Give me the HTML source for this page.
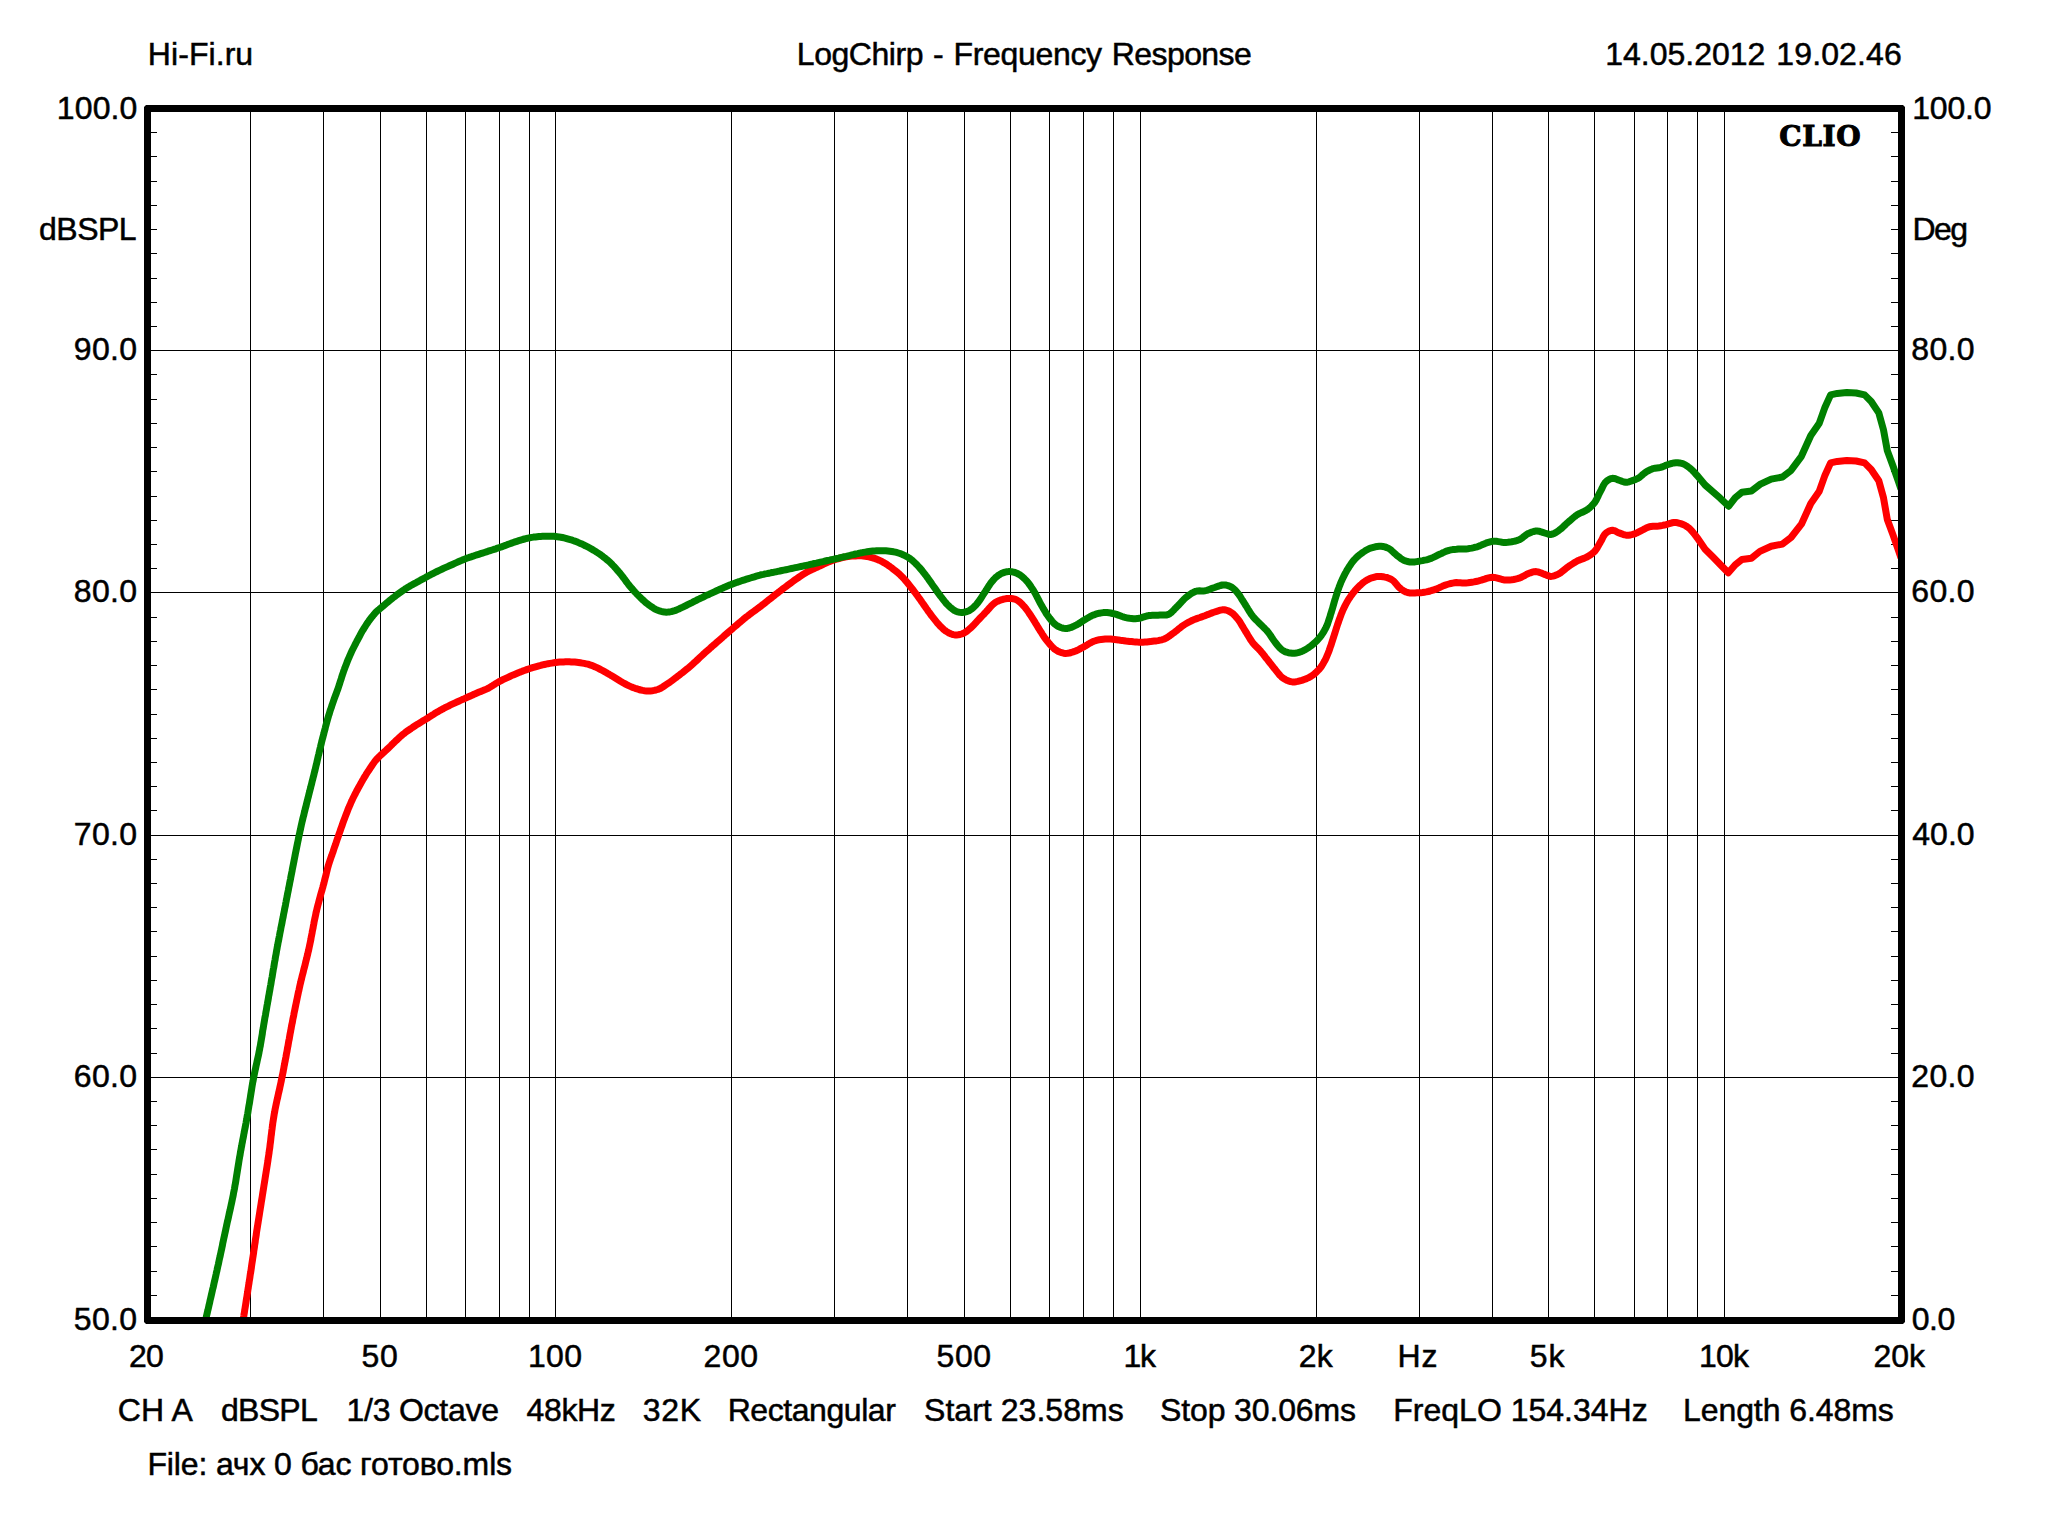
<!DOCTYPE html>
<html lang="en"><head><meta charset="utf-8"><title>LogChirp - Frequency Response</title>
<style>html,body{margin:0;padding:0;background:#fff;}body{width:2048px;height:1536px;overflow:hidden;}svg{display:block;}
text{font-family:"Liberation Sans",sans-serif;font-size:32px;fill:#000;stroke:#000;stroke-width:0.5px;}
.clio{font-family:"DejaVu Serif",serif;font-weight:bold;font-size:28px;stroke-width:1px;}
</style></head><body>
<svg width="2048" height="1536" viewBox="0 0 2048 1536">
<rect x="0" y="0" width="2048" height="1536" fill="#fff"/>
<g fill="#000" shape-rendering="crispEdges">
<rect x="250" y="109" width="1" height="1211"/>
<rect x="323" y="109" width="1" height="1211"/>
<rect x="380" y="109" width="1" height="1211"/>
<rect x="426" y="109" width="1" height="1211"/>
<rect x="465" y="109" width="1" height="1211"/>
<rect x="499" y="109" width="1" height="1211"/>
<rect x="529" y="109" width="1" height="1211"/>
<rect x="555" y="109" width="1" height="1211"/>
<rect x="731" y="109" width="1" height="1211"/>
<rect x="834" y="109" width="1" height="1211"/>
<rect x="907" y="109" width="1" height="1211"/>
<rect x="964" y="109" width="1" height="1211"/>
<rect x="1010" y="109" width="1" height="1211"/>
<rect x="1049" y="109" width="1" height="1211"/>
<rect x="1083" y="109" width="1" height="1211"/>
<rect x="1113" y="109" width="1" height="1211"/>
<rect x="1140" y="109" width="1" height="1211"/>
<rect x="1316" y="109" width="1" height="1211"/>
<rect x="1419" y="109" width="1" height="1211"/>
<rect x="1492" y="109" width="1" height="1211"/>
<rect x="1548" y="109" width="1" height="1211"/>
<rect x="1594" y="109" width="1" height="1211"/>
<rect x="1634" y="109" width="1" height="1211"/>
<rect x="1667" y="109" width="1" height="1211"/>
<rect x="1697" y="109" width="1" height="1211"/>
<rect x="1724" y="109" width="1" height="1211"/>
<rect x="148" y="1077" width="1753" height="1"/>
<rect x="148" y="835" width="1753" height="1"/>
<rect x="148" y="592" width="1753" height="1"/>
<rect x="148" y="350" width="1753" height="1"/>
<rect x="151" y="1295" width="6" height="1"/>
<rect x="1891" y="1295" width="7" height="1"/>
<rect x="151" y="1271" width="6" height="1"/>
<rect x="1891" y="1271" width="7" height="1"/>
<rect x="151" y="1246" width="6" height="1"/>
<rect x="1891" y="1246" width="7" height="1"/>
<rect x="151" y="1222" width="6" height="1"/>
<rect x="1891" y="1222" width="7" height="1"/>
<rect x="151" y="1198" width="6" height="1"/>
<rect x="1891" y="1198" width="7" height="1"/>
<rect x="151" y="1174" width="6" height="1"/>
<rect x="1891" y="1174" width="7" height="1"/>
<rect x="151" y="1149" width="6" height="1"/>
<rect x="1891" y="1149" width="7" height="1"/>
<rect x="151" y="1125" width="6" height="1"/>
<rect x="1891" y="1125" width="7" height="1"/>
<rect x="151" y="1101" width="6" height="1"/>
<rect x="1891" y="1101" width="7" height="1"/>
<rect x="151" y="1053" width="6" height="1"/>
<rect x="1891" y="1053" width="7" height="1"/>
<rect x="151" y="1028" width="6" height="1"/>
<rect x="1891" y="1028" width="7" height="1"/>
<rect x="151" y="1004" width="6" height="1"/>
<rect x="1891" y="1004" width="7" height="1"/>
<rect x="151" y="980" width="6" height="1"/>
<rect x="1891" y="980" width="7" height="1"/>
<rect x="151" y="956" width="6" height="1"/>
<rect x="1891" y="956" width="7" height="1"/>
<rect x="151" y="931" width="6" height="1"/>
<rect x="1891" y="931" width="7" height="1"/>
<rect x="151" y="907" width="6" height="1"/>
<rect x="1891" y="907" width="7" height="1"/>
<rect x="151" y="883" width="6" height="1"/>
<rect x="1891" y="883" width="7" height="1"/>
<rect x="151" y="859" width="6" height="1"/>
<rect x="1891" y="859" width="7" height="1"/>
<rect x="151" y="810" width="6" height="1"/>
<rect x="1891" y="810" width="7" height="1"/>
<rect x="151" y="786" width="6" height="1"/>
<rect x="1891" y="786" width="7" height="1"/>
<rect x="151" y="762" width="6" height="1"/>
<rect x="1891" y="762" width="7" height="1"/>
<rect x="151" y="738" width="6" height="1"/>
<rect x="1891" y="738" width="7" height="1"/>
<rect x="151" y="714" width="6" height="1"/>
<rect x="1891" y="714" width="7" height="1"/>
<rect x="151" y="689" width="6" height="1"/>
<rect x="1891" y="689" width="7" height="1"/>
<rect x="151" y="665" width="6" height="1"/>
<rect x="1891" y="665" width="7" height="1"/>
<rect x="151" y="641" width="6" height="1"/>
<rect x="1891" y="641" width="7" height="1"/>
<rect x="151" y="617" width="6" height="1"/>
<rect x="1891" y="617" width="7" height="1"/>
<rect x="151" y="568" width="6" height="1"/>
<rect x="1891" y="568" width="7" height="1"/>
<rect x="151" y="544" width="6" height="1"/>
<rect x="1891" y="544" width="7" height="1"/>
<rect x="151" y="520" width="6" height="1"/>
<rect x="1891" y="520" width="7" height="1"/>
<rect x="151" y="496" width="6" height="1"/>
<rect x="1891" y="496" width="7" height="1"/>
<rect x="151" y="471" width="6" height="1"/>
<rect x="1891" y="471" width="7" height="1"/>
<rect x="151" y="447" width="6" height="1"/>
<rect x="1891" y="447" width="7" height="1"/>
<rect x="151" y="423" width="6" height="1"/>
<rect x="1891" y="423" width="7" height="1"/>
<rect x="151" y="399" width="6" height="1"/>
<rect x="1891" y="399" width="7" height="1"/>
<rect x="151" y="374" width="6" height="1"/>
<rect x="1891" y="374" width="7" height="1"/>
<rect x="151" y="326" width="6" height="1"/>
<rect x="1891" y="326" width="7" height="1"/>
<rect x="151" y="302" width="6" height="1"/>
<rect x="1891" y="302" width="7" height="1"/>
<rect x="151" y="278" width="6" height="1"/>
<rect x="1891" y="278" width="7" height="1"/>
<rect x="151" y="253" width="6" height="1"/>
<rect x="1891" y="253" width="7" height="1"/>
<rect x="151" y="229" width="6" height="1"/>
<rect x="1891" y="229" width="7" height="1"/>
<rect x="151" y="205" width="6" height="1"/>
<rect x="1891" y="205" width="7" height="1"/>
<rect x="151" y="181" width="6" height="1"/>
<rect x="1891" y="181" width="7" height="1"/>
<rect x="151" y="156" width="6" height="1"/>
<rect x="1891" y="156" width="7" height="1"/>
<rect x="151" y="132" width="6" height="1"/>
<rect x="1891" y="132" width="7" height="1"/>
</g>
<g fill="none" stroke-width="7" stroke-linejoin="round" stroke-linecap="butt">
<path stroke="#ff0000" d="M242.9 1321.5 L243.1 1320.1 L243.4 1318.6 L243.7 1316.6 L243.9 1315.6 L244.0 1314.4 L244.3 1313.1 L244.5 1311.7 L244.7 1310.2 L245.0 1308.5 L245.3 1306.7 L245.6 1304.8 L245.9 1302.9 L246.2 1300.8 L246.5 1298.7 L246.9 1296.6 L247.2 1294.4 L247.6 1292.2 L247.9 1289.9 L248.3 1287.6 L248.6 1285.4 L249.0 1283.1 L249.3 1280.9 L249.7 1278.7 L250.0 1276.5 L250.3 1274.3 L250.7 1272.3 L251.0 1270.3 L251.3 1268.3 L251.5 1266.5 L251.8 1264.5 L252.1 1262.5 L252.4 1260.6 L252.7 1258.6 L253.0 1256.7 L253.3 1254.8 L253.6 1252.9 L253.8 1251.0 L254.1 1249.2 L254.4 1247.3 L254.6 1245.5 L254.9 1243.6 L255.2 1241.8 L255.4 1239.9 L255.7 1238.1 L256.0 1236.3 L256.3 1234.4 L256.5 1232.5 L256.8 1230.7 L257.1 1228.8 L257.4 1226.9 L257.7 1225.0 L258.0 1223.1 L258.3 1221.2 L258.6 1219.4 L258.9 1217.5 L259.2 1215.6 L259.5 1213.7 L259.8 1211.8 L260.1 1209.9 L260.4 1208.0 L260.7 1206.1 L261.0 1204.2 L261.3 1202.3 L261.6 1200.4 L261.9 1198.6 L262.2 1196.7 L262.5 1194.8 L262.8 1192.9 L263.1 1191.0 L263.4 1189.1 L263.7 1187.2 L264.0 1185.3 L264.3 1183.5 L264.6 1181.6 L264.9 1179.7 L265.2 1177.8 L265.5 1175.9 L265.8 1174.0 L266.1 1172.2 L266.4 1170.3 L266.7 1168.4 L267.0 1166.5 L267.3 1164.6 L267.6 1162.7 L267.9 1160.8 L268.1 1159.0 L268.4 1157.1 L268.7 1155.2 L269.0 1153.3 L269.2 1151.4 L269.5 1149.5 L269.8 1147.6 L270.0 1145.7 L270.2 1143.9 L270.5 1142.0 L270.7 1140.1 L270.9 1138.2 L271.1 1136.3 L271.4 1134.4 L271.6 1132.5 L271.8 1130.6 L272.1 1128.7 L272.3 1126.8 L272.6 1124.9 L272.8 1123.0 L273.1 1121.2 L273.4 1119.3 L273.7 1117.4 L274.0 1115.5 L274.3 1113.6 L274.7 1111.7 L275.0 1109.8 L275.4 1107.9 L275.8 1105.9 L276.2 1104.0 L276.6 1102.1 L277.0 1100.1 L277.5 1098.2 L277.9 1096.3 L278.3 1094.4 L278.7 1092.5 L279.2 1090.6 L279.6 1088.7 L280.0 1086.8 L280.4 1085.0 L280.8 1083.1 L281.2 1081.3 L281.5 1079.6 L281.9 1077.8 L282.3 1075.8 L282.7 1073.9 L283.1 1072.0 L283.4 1070.1 L283.8 1068.2 L284.1 1066.3 L284.5 1064.5 L284.8 1062.7 L285.2 1060.8 L285.5 1059.0 L285.9 1057.2 L286.2 1055.4 L286.5 1053.6 L286.9 1051.8 L287.2 1050.0 L287.5 1048.1 L287.9 1046.3 L288.2 1044.5 L288.5 1042.7 L288.8 1040.9 L289.2 1039.2 L289.5 1037.4 L289.8 1035.6 L290.1 1033.8 L290.5 1032.0 L290.8 1030.1 L291.2 1028.2 L291.5 1026.3 L291.9 1024.3 L292.3 1022.6 L292.6 1020.8 L292.9 1019.0 L293.3 1017.2 L293.7 1015.4 L294.0 1013.5 L294.4 1011.6 L294.8 1009.7 L295.2 1007.8 L295.6 1005.8 L296.0 1003.9 L296.4 1002.0 L296.8 1000.0 L297.2 998.1 L297.6 996.1 L298.0 994.2 L298.4 992.2 L298.9 990.3 L299.3 988.4 L299.7 986.5 L300.1 984.6 L300.6 982.7 L301.0 980.8 L301.5 979.0 L301.9 977.1 L302.4 975.2 L302.9 973.3 L303.4 971.4 L303.8 969.5 L304.3 967.7 L304.8 965.8 L305.3 963.9 L305.7 962.0 L306.2 960.1 L306.7 958.2 L307.1 956.4 L307.6 954.5 L308.0 952.6 L308.5 950.7 L308.9 948.8 L309.3 946.9 L309.7 945.0 L310.1 943.1 L310.5 941.2 L310.9 939.2 L311.2 937.3 L311.6 935.4 L312.0 933.4 L312.3 931.5 L312.7 929.6 L313.1 927.7 L313.4 925.8 L313.8 923.9 L314.1 922.0 L314.5 920.1 L314.9 918.2 L315.3 916.4 L315.7 914.6 L316.0 912.8 L316.5 911.0 L316.9 909.1 L317.4 907.1 L317.9 905.2 L318.4 903.3 L318.9 901.4 L319.4 899.5 L319.9 897.6 L320.4 895.8 L320.9 893.9 L321.4 892.1 L321.9 890.4 L322.4 888.6 L322.9 886.9 L323.3 885.2 L323.8 883.6 L324.2 882.0 L324.7 879.9 L325.2 877.9 L325.7 876.0 L326.2 874.1 L326.6 872.2 L327.1 870.4 L327.5 868.6 L328.0 866.8 L328.5 865.0 L329.1 863.1 L329.7 861.2 L330.4 859.3 L331.0 857.4 L331.7 855.6 L332.3 853.7 L333.0 851.9 L333.6 850.0 L334.2 848.2 L334.8 846.4 L335.5 844.6 L336.1 842.7 L336.7 840.9 L337.3 839.1 L338.0 837.3 L338.6 835.4 L339.2 833.6 L339.9 831.8 L340.5 829.9 L341.1 828.1 L341.8 826.2 L342.5 824.3 L343.1 822.4 L343.8 820.6 L344.5 818.8 L345.2 816.9 L345.9 815.1 L346.6 813.2 L347.3 811.4 L348.0 809.5 L348.8 807.7 L349.5 805.9 L350.3 804.2 L351.0 802.5 L351.9 800.6 L352.7 798.8 L353.6 797.0 L354.5 795.2 L355.4 793.5 L356.3 791.7 L357.2 790.0 L358.1 788.3 L359.0 786.7 L359.9 785.1 L360.8 783.5 L361.7 781.9 L362.6 780.3 L363.5 778.8 L364.5 777.0 L365.6 775.3 L366.6 773.6 L367.6 772.0 L368.7 770.4 L369.8 768.8 L370.8 767.2 L371.8 765.7 L372.8 764.2 L373.9 762.7 L374.9 761.3 L376.0 760.0 L377.4 758.5 L378.7 757.1 L380.1 755.8 L381.6 754.4 L382.9 753.2 L384.3 751.9 L385.6 750.7 L387.0 749.4 L388.4 748.1 L389.8 746.8 L391.2 745.4 L392.5 744.0 L394.0 742.6 L395.4 741.2 L396.8 740.0 L398.1 738.7 L399.5 737.4 L400.9 736.2 L402.3 734.9 L403.8 733.8 L405.2 732.6 L406.6 731.5 L408.1 730.5 L409.6 729.5 L411.1 728.5 L412.5 727.5 L414.0 726.5 L415.5 725.5 L417.0 724.6 L418.5 723.7 L420.0 722.8 L421.4 721.9 L422.7 721.1 L424.0 720.3 L425.4 719.5 L426.9 718.6 L428.3 717.7 L429.7 716.7 L431.2 715.8 L432.8 714.8 L434.3 713.8 L435.9 712.8 L437.5 711.9 L439.0 711.0 L440.5 710.2 L442.0 709.3 L443.6 708.5 L445.1 707.7 L446.7 706.9 L448.4 706.1 L450.0 705.2 L451.7 704.4 L453.4 703.6 L455.1 702.8 L456.9 702.0 L458.7 701.2 L460.5 700.4 L462.2 699.6 L463.9 698.9 L465.6 698.1 L467.4 697.3 L469.1 696.5 L470.9 695.7 L472.6 695.0 L474.2 694.2 L475.9 693.5 L477.5 692.8 L479.2 692.1 L480.9 691.4 L482.5 690.8 L484.2 690.1 L485.8 689.4 L487.5 688.6 L489.0 687.8 L490.4 687.0 L491.9 686.1 L493.4 685.1 L494.9 684.2 L496.4 683.2 L498.0 682.3 L499.6 681.4 L501.2 680.6 L502.9 679.7 L504.6 678.9 L506.3 678.1 L508.0 677.3 L509.8 676.5 L511.5 675.7 L513.3 674.9 L515.0 674.2 L516.7 673.5 L518.4 672.8 L520.0 672.1 L521.7 671.5 L523.4 670.8 L525.1 670.2 L526.7 669.6 L528.4 669.0 L530.0 668.5 L531.8 667.9 L533.6 667.3 L535.4 666.8 L537.2 666.3 L538.9 665.8 L540.7 665.4 L542.5 664.9 L544.4 664.5 L546.2 664.1 L548.1 663.7 L550.0 663.4 L551.9 663.1 L553.8 662.8 L555.6 662.5 L557.6 662.3 L559.6 662.1 L561.6 662.0 L563.6 661.9 L565.5 661.8 L567.5 661.8 L569.4 661.8 L571.2 661.9 L573.0 662.0 L574.8 662.1 L576.7 662.3 L578.5 662.5 L580.4 662.8 L582.3 663.1 L584.2 663.4 L586.1 663.8 L588.0 664.2 L589.9 664.8 L591.5 665.3 L593.2 666.0 L594.8 666.7 L596.4 667.4 L598.0 668.2 L599.6 669.0 L601.2 669.8 L602.8 670.7 L604.5 671.6 L606.1 672.5 L607.7 673.5 L609.3 674.4 L610.9 675.4 L612.5 676.3 L614.1 677.3 L615.7 678.3 L617.3 679.3 L618.9 680.3 L620.5 681.3 L622.2 682.3 L623.8 683.2 L625.4 684.0 L627.0 684.8 L628.6 685.6 L630.3 686.4 L631.9 687.1 L633.5 687.7 L635.2 688.3 L637.1 688.9 L638.9 689.5 L640.8 690.0 L642.7 690.4 L644.6 690.7 L646.5 690.9 L648.4 690.9 L650.3 690.9 L652.2 690.7 L654.2 690.4 L656.0 690.0 L657.8 689.5 L659.5 688.8 L661.1 688.0 L662.7 687.0 L664.2 686.0 L665.8 684.9 L667.3 683.9 L668.9 682.8 L670.4 681.8 L671.9 680.7 L673.5 679.5 L675.1 678.3 L676.7 677.1 L678.1 676.0 L679.5 674.9 L680.9 673.8 L682.4 672.7 L683.9 671.5 L685.4 670.3 L686.9 669.1 L688.4 667.9 L689.9 666.6 L691.3 665.4 L692.6 664.2 L694.0 662.9 L695.4 661.7 L696.8 660.4 L698.2 659.1 L699.5 657.8 L700.9 656.5 L702.3 655.2 L703.7 653.9 L705.0 652.7 L706.5 651.4 L708.0 650.1 L709.5 648.8 L710.9 647.5 L712.4 646.2 L713.8 644.9 L715.3 643.7 L716.7 642.4 L718.2 641.1 L719.7 639.8 L721.1 638.6 L722.6 637.3 L724.0 636.0 L725.5 634.7 L726.9 633.5 L728.4 632.2 L729.9 630.9 L731.4 629.6 L732.9 628.3 L734.3 627.0 L735.8 625.8 L737.3 624.5 L738.9 623.1 L740.4 621.9 L741.9 620.6 L743.4 619.3 L745.0 618.0 L746.5 616.8 L748.0 615.7 L749.5 614.5 L751.0 613.4 L752.5 612.3 L754.0 611.2 L755.5 610.1 L757.0 609.0 L758.5 607.9 L759.9 606.8 L761.3 605.8 L762.8 604.6 L764.3 603.5 L765.7 602.3 L767.1 601.2 L768.5 600.1 L769.9 599.0 L771.3 597.9 L772.7 596.8 L774.1 595.7 L775.5 594.6 L776.9 593.5 L778.3 592.4 L779.8 591.3 L781.2 590.2 L782.6 589.1 L784.0 588.0 L785.4 587.0 L786.8 585.9 L788.2 584.8 L789.6 583.8 L791.0 582.8 L792.5 581.7 L793.9 580.7 L795.3 579.7 L796.9 578.6 L798.5 577.5 L800.1 576.4 L801.7 575.3 L803.3 574.3 L805.0 573.3 L806.6 572.3 L808.2 571.4 L809.8 570.6 L811.5 569.8 L813.1 569.1 L814.7 568.3 L816.4 567.6 L818.0 566.8 L819.6 566.1 L821.2 565.3 L822.8 564.5 L824.4 563.7 L826.1 563.0 L827.7 562.3 L829.3 561.6 L831.2 560.9 L833.0 560.3 L834.9 559.6 L836.8 559.0 L838.7 558.5 L840.6 558.0 L842.5 557.6 L844.3 557.2 L846.2 556.9 L848.1 556.6 L850.0 556.3 L851.9 556.1 L853.8 556.0 L855.7 555.9 L857.7 555.8 L859.6 555.8 L861.5 555.8 L863.3 556.0 L865.2 556.2 L867.1 556.5 L869.0 556.8 L870.8 557.3 L872.7 557.8 L874.3 558.3 L875.9 558.9 L877.5 559.5 L879.1 560.2 L880.6 560.9 L882.2 561.7 L883.8 562.6 L885.4 563.5 L887.0 564.5 L888.5 565.6 L890.1 566.7 L891.6 567.8 L893.0 568.9 L894.3 569.9 L895.7 571.0 L897.0 572.1 L898.4 573.2 L899.7 574.4 L901.0 575.7 L902.2 576.9 L903.4 578.2 L904.6 579.5 L905.8 580.9 L907.0 582.3 L908.2 583.8 L909.3 585.2 L910.5 586.7 L911.7 588.2 L912.9 589.7 L914.1 591.3 L915.2 592.8 L916.4 594.4 L917.6 596.0 L918.7 597.6 L919.9 599.2 L921.0 600.7 L922.0 602.2 L923.1 603.7 L924.1 605.2 L925.2 606.8 L926.2 608.3 L927.3 609.8 L928.3 611.3 L929.4 612.7 L930.6 614.3 L931.7 615.9 L932.9 617.4 L934.1 618.9 L935.3 620.4 L936.5 621.9 L937.6 623.3 L938.8 624.5 L940.0 625.9 L941.3 627.1 L942.5 628.3 L943.7 629.5 L945.0 630.5 L946.3 631.4 L947.9 632.4 L949.6 633.3 L951.3 634.0 L953.1 634.6 L954.8 634.9 L956.5 635.0 L958.2 634.8 L960.0 634.5 L961.7 634.0 L963.3 633.4 L964.9 632.5 L966.5 631.5 L968.0 630.3 L969.4 629.0 L970.9 627.8 L972.2 626.5 L973.4 625.3 L974.7 623.9 L975.9 622.6 L977.2 621.2 L978.4 619.9 L979.7 618.5 L980.9 617.2 L982.2 615.9 L983.5 614.6 L984.7 613.2 L986.0 611.9 L987.3 610.5 L988.5 609.1 L989.8 607.6 L991.0 606.3 L992.3 605.0 L993.5 603.9 L994.9 602.8 L996.3 601.9 L997.8 601.2 L999.4 600.5 L1001.1 599.9 L1003.1 599.3 L1005.1 598.9 L1007.0 598.5 L1008.9 598.4 L1010.9 598.4 L1012.8 598.7 L1014.6 599.1 L1016.4 599.8 L1018.0 600.7 L1019.6 601.9 L1021.1 603.3 L1022.6 604.8 L1024.0 606.3 L1025.1 607.6 L1026.2 609.0 L1027.3 610.5 L1028.4 612.0 L1029.4 613.6 L1030.5 615.1 L1031.5 616.7 L1032.5 618.2 L1033.4 619.7 L1034.4 621.2 L1035.3 622.8 L1036.3 624.4 L1037.2 625.9 L1038.1 627.5 L1039.1 629.0 L1040.1 630.7 L1041.2 632.3 L1042.2 634.0 L1043.2 635.6 L1044.3 637.2 L1045.4 638.8 L1046.6 640.3 L1047.8 641.8 L1049.1 643.4 L1050.4 644.9 L1051.8 646.4 L1053.2 647.8 L1054.6 649.1 L1056.1 650.1 L1057.9 651.2 L1059.8 652.0 L1061.7 652.7 L1063.6 653.2 L1065.5 653.4 L1067.4 653.3 L1069.3 653.0 L1071.2 652.5 L1073.1 651.9 L1075.0 651.2 L1076.6 650.6 L1078.2 649.8 L1079.7 649.0 L1081.3 648.2 L1082.8 647.3 L1084.4 646.5 L1086.0 645.6 L1087.5 644.7 L1089.0 643.7 L1090.6 642.8 L1092.1 642.0 L1093.8 641.3 L1095.6 640.7 L1097.5 640.2 L1099.4 639.7 L1101.3 639.4 L1103.3 639.2 L1105.2 639.0 L1107.1 638.9 L1109.0 639.0 L1110.8 639.1 L1112.7 639.3 L1114.6 639.5 L1116.5 639.7 L1118.4 639.9 L1120.2 640.2 L1122.1 640.4 L1124.0 640.7 L1125.9 641.0 L1127.8 641.2 L1129.6 641.4 L1131.5 641.6 L1133.4 641.8 L1135.4 641.9 L1137.3 642.1 L1139.2 642.2 L1141.0 642.2 L1142.9 642.2 L1144.9 642.1 L1146.8 642.0 L1148.6 641.8 L1150.5 641.6 L1152.4 641.3 L1154.3 641.1 L1156.2 640.9 L1158.2 640.6 L1160.1 640.2 L1161.9 639.8 L1163.7 639.2 L1165.4 638.5 L1167.0 637.6 L1168.5 636.6 L1170.1 635.5 L1171.6 634.4 L1173.1 633.3 L1174.5 632.3 L1175.8 631.3 L1177.2 630.2 L1178.5 629.0 L1179.9 627.9 L1181.2 626.9 L1182.6 625.9 L1184.1 624.9 L1185.7 623.9 L1187.2 623.0 L1188.8 622.1 L1190.4 621.3 L1192.0 620.5 L1193.5 619.8 L1195.1 619.2 L1196.7 618.6 L1198.4 618.0 L1200.0 617.5 L1201.7 616.9 L1203.3 616.3 L1204.9 615.7 L1206.6 615.0 L1208.2 614.4 L1209.9 613.7 L1211.5 613.1 L1213.1 612.5 L1214.7 612.0 L1216.6 611.4 L1218.6 610.7 L1220.5 610.2 L1222.3 609.8 L1224.1 609.7 L1225.7 610.0 L1227.3 610.5 L1228.8 611.1 L1230.2 611.9 L1231.6 612.8 L1232.9 613.7 L1234.1 614.8 L1235.3 616.1 L1236.4 617.4 L1237.6 618.8 L1238.7 620.2 L1239.8 621.8 L1240.8 623.5 L1241.9 625.3 L1243.0 627.1 L1244.0 628.9 L1245.1 630.6 L1246.0 632.1 L1247.0 633.7 L1247.9 635.3 L1248.8 636.8 L1249.8 638.4 L1250.7 639.9 L1251.7 641.3 L1252.7 642.7 L1253.9 644.1 L1255.2 645.5 L1256.4 646.7 L1257.7 648.0 L1259.0 649.3 L1260.2 650.6 L1261.3 651.9 L1262.4 653.2 L1263.5 654.6 L1264.6 656.0 L1265.6 657.4 L1266.7 658.7 L1267.8 660.1 L1268.9 661.5 L1269.9 662.8 L1271.0 664.2 L1272.1 665.6 L1273.1 666.9 L1274.2 668.3 L1275.3 669.6 L1276.5 671.1 L1277.7 672.6 L1278.9 674.1 L1280.2 675.6 L1281.5 676.9 L1282.9 678.0 L1284.3 678.9 L1285.9 679.8 L1287.4 680.5 L1289.1 681.1 L1290.7 681.6 L1292.3 681.9 L1294.2 681.9 L1296.1 681.7 L1297.9 681.3 L1299.8 680.8 L1301.7 680.3 L1303.3 679.8 L1304.9 679.2 L1306.6 678.6 L1308.2 677.9 L1309.7 677.1 L1311.2 676.2 L1312.8 675.1 L1314.3 674.0 L1315.8 672.7 L1317.2 671.3 L1318.6 669.9 L1319.9 668.4 L1321.0 667.0 L1322.0 665.5 L1322.9 664.0 L1323.8 662.4 L1324.7 660.8 L1325.6 659.1 L1326.4 657.3 L1327.1 655.7 L1327.8 654.0 L1328.5 652.2 L1329.2 650.4 L1329.8 648.6 L1330.4 646.7 L1331.1 644.9 L1331.7 643.0 L1332.3 641.2 L1332.9 639.3 L1333.5 637.4 L1334.1 635.5 L1334.7 633.6 L1335.3 631.7 L1335.9 629.8 L1336.5 627.9 L1337.1 626.0 L1337.7 624.2 L1338.3 622.5 L1338.9 620.7 L1339.5 619.0 L1340.1 617.3 L1340.7 615.7 L1341.3 614.0 L1342.0 612.3 L1342.7 610.7 L1343.4 609.1 L1344.2 607.4 L1345.1 605.6 L1346.0 603.9 L1346.9 602.3 L1347.9 600.6 L1348.8 599.0 L1349.9 597.4 L1350.9 595.9 L1352.1 594.3 L1353.3 592.7 L1354.6 591.1 L1355.9 589.6 L1357.2 588.2 L1358.6 586.8 L1359.9 585.5 L1361.3 584.3 L1362.6 583.1 L1364.0 582.0 L1365.4 581.0 L1366.8 580.1 L1368.3 579.3 L1370.0 578.5 L1371.9 577.8 L1373.7 577.3 L1375.5 576.8 L1377.3 576.6 L1379.2 576.4 L1381.1 576.5 L1383.0 576.7 L1384.8 577.1 L1386.4 577.4 L1387.9 577.9 L1389.4 578.5 L1391.0 579.2 L1392.4 580.1 L1393.7 581.2 L1395.0 582.6 L1396.2 584.0 L1397.4 585.5 L1398.6 586.9 L1399.9 588.1 L1401.3 589.2 L1402.8 590.3 L1404.3 591.2 L1405.9 592.0 L1407.5 592.5 L1409.3 592.9 L1411.1 593.0 L1413.1 593.0 L1415.0 592.9 L1416.9 592.8 L1418.8 592.8 L1420.7 592.7 L1422.5 592.5 L1424.4 592.2 L1426.3 591.9 L1428.2 591.5 L1430.1 591.0 L1432.0 590.4 L1433.9 589.8 L1435.8 589.2 L1437.4 588.6 L1438.9 587.9 L1440.5 587.1 L1442.1 586.4 L1443.6 585.7 L1445.2 585.1 L1447.1 584.5 L1448.9 584.0 L1450.8 583.5 L1452.7 583.1 L1454.7 582.8 L1456.5 582.6 L1458.4 582.7 L1460.3 582.8 L1462.2 582.9 L1464.1 583.0 L1466.0 582.9 L1468.0 582.8 L1470.0 582.5 L1472.0 582.2 L1474.0 581.9 L1475.8 581.5 L1477.3 581.2 L1478.7 580.9 L1479.9 580.5 L1481.3 580.1 L1482.9 579.6 L1484.6 579.1 L1486.6 578.4 L1488.6 577.9 L1490.7 577.5 L1492.7 577.3 L1494.5 577.4 L1496.4 577.8 L1498.3 578.3 L1500.2 578.9 L1502.1 579.5 L1504.0 579.9 L1505.9 580.1 L1507.8 580.1 L1509.7 580.0 L1511.7 579.8 L1513.6 579.5 L1515.5 579.1 L1517.4 578.7 L1519.1 578.2 L1520.8 577.5 L1522.4 576.7 L1524.0 575.9 L1525.5 575.0 L1527.0 574.2 L1528.5 573.5 L1530.4 572.8 L1532.3 572.2 L1534.2 571.7 L1536.1 571.6 L1537.8 571.9 L1539.5 572.4 L1541.3 573.1 L1543.0 573.8 L1544.6 574.4 L1546.3 575.0 L1547.9 575.7 L1549.5 576.2 L1551.2 576.4 L1553.0 576.1 L1554.9 575.6 L1556.8 574.8 L1558.7 573.9 L1560.3 573.0 L1561.8 571.8 L1563.4 570.5 L1565.0 569.2 L1566.6 567.9 L1568.2 566.7 L1569.7 565.6 L1571.3 564.6 L1572.9 563.6 L1574.4 562.6 L1576.0 561.7 L1577.6 560.8 L1579.2 560.1 L1580.8 559.5 L1582.4 558.9 L1584.0 558.4 L1585.5 557.7 L1587.0 557.0 L1588.6 556.0 L1590.2 555.0 L1591.8 553.9 L1593.2 552.7 L1594.6 551.4 L1595.7 550.1 L1596.7 548.6 L1597.6 547.1 L1598.5 545.5 L1599.4 543.9 L1600.3 542.4 L1601.2 540.8 L1602.1 539.1 L1602.9 537.3 L1603.8 535.7 L1604.8 534.2 L1605.9 533.1 L1607.4 532.0 L1609.1 531.1 L1610.8 530.5 L1612.5 530.3 L1614.1 530.6 L1615.8 531.3 L1617.4 532.2 L1619.1 532.9 L1621.0 533.6 L1622.9 534.3 L1624.8 534.9 L1626.7 535.2 L1628.6 535.2 L1630.5 535.0 L1632.3 534.5 L1634.2 534.0 L1635.7 533.4 L1637.3 532.7 L1638.8 531.9 L1640.3 531.1 L1641.8 530.3 L1643.3 529.6 L1644.7 528.8 L1646.2 528.0 L1647.7 527.3 L1649.3 526.8 L1651.1 526.5 L1653.0 526.3 L1655.0 526.3 L1657.0 526.2 L1658.8 526.0 L1660.7 525.7 L1662.6 525.4 L1664.4 525.0 L1666.3 524.6 L1668.2 524.0 L1670.1 523.4 L1672.0 522.8 L1673.9 522.5 L1675.8 522.6 L1677.7 522.8 L1679.6 523.3 L1681.4 523.9 L1683.0 524.5 L1684.5 525.2 L1686.0 526.0 L1687.5 527.0 L1689.0 528.1 L1690.3 529.3 L1691.5 530.6 L1692.7 532.0 L1694.0 533.6 L1695.2 535.1 L1696.4 536.7 L1697.6 538.2 L1705.1 549.2 L1712.7 556.8 L1720.2 564.5 L1728.3 572.8 L1735.3 564.7 L1741.9 559.5 L1751.4 558.3 L1759.9 551.4 L1771.2 546.2 L1782.5 544.1 L1791.0 537.5 L1801.4 524.2 L1810.8 503.5 L1819.3 491.2 L1825.0 475.2 L1830.6 462.9 L1837.3 461.4 L1846.7 460.4 L1856.1 461.0 L1864.6 462.9 L1871.2 469.5 L1878.8 480.8 L1883.5 497.8 L1887.3 519.5 L1892.9 534.6 L1898.2 549.7 L1901.0 558.0"/>
<path stroke="#008000" d="M205.2 1321.5 L205.6 1320.1 L205.9 1318.6 L206.4 1316.6 L206.6 1315.6 L206.9 1314.4 L207.2 1313.1 L207.5 1311.7 L207.9 1310.2 L208.3 1308.5 L208.7 1306.7 L209.1 1304.8 L209.6 1302.9 L210.0 1300.8 L210.5 1298.7 L211.0 1296.6 L211.5 1294.4 L212.0 1292.2 L212.5 1289.9 L213.1 1287.6 L213.6 1285.4 L214.1 1283.1 L214.6 1280.9 L215.1 1278.7 L215.6 1276.5 L216.1 1274.3 L216.5 1272.3 L217.0 1270.3 L217.4 1268.3 L217.8 1266.5 L218.3 1264.5 L218.7 1262.5 L219.1 1260.6 L219.5 1258.6 L220.0 1256.7 L220.4 1254.8 L220.8 1252.9 L221.2 1251.0 L221.6 1249.2 L222.0 1247.3 L222.4 1245.5 L222.7 1243.6 L223.1 1241.8 L223.5 1239.9 L223.9 1238.1 L224.3 1236.3 L224.7 1234.4 L225.1 1232.5 L225.5 1230.7 L225.9 1228.8 L226.3 1226.9 L226.7 1225.0 L227.1 1223.1 L227.5 1221.2 L228.0 1219.4 L228.4 1217.5 L228.8 1215.6 L229.2 1213.7 L229.6 1211.8 L230.1 1209.9 L230.5 1208.0 L230.9 1206.1 L231.3 1204.2 L231.7 1202.4 L232.1 1200.5 L232.5 1198.6 L232.9 1196.7 L233.3 1194.8 L233.6 1192.9 L234.0 1191.0 L234.4 1189.1 L234.7 1187.2 L235.0 1185.4 L235.4 1183.5 L235.7 1181.6 L236.0 1179.7 L236.3 1177.8 L236.6 1175.9 L236.9 1174.0 L237.2 1172.2 L237.5 1170.3 L237.8 1168.4 L238.1 1166.5 L238.4 1164.6 L238.7 1162.7 L239.0 1160.8 L239.3 1159.0 L239.6 1157.1 L240.0 1155.2 L240.3 1153.3 L240.6 1151.4 L241.0 1149.5 L241.3 1147.6 L241.7 1145.7 L242.0 1143.8 L242.4 1142.0 L242.7 1140.1 L243.1 1138.2 L243.5 1136.3 L243.8 1134.4 L244.2 1132.5 L244.5 1130.6 L244.9 1128.7 L245.3 1126.8 L245.6 1125.0 L246.0 1123.1 L246.3 1121.2 L246.7 1119.3 L247.0 1117.4 L247.3 1115.5 L247.7 1113.6 L248.0 1111.7 L248.3 1109.8 L248.6 1107.9 L248.9 1105.9 L249.3 1104.0 L249.6 1102.1 L249.9 1100.1 L250.2 1098.2 L250.5 1096.3 L250.8 1094.4 L251.1 1092.5 L251.4 1090.6 L251.7 1088.7 L252.0 1086.8 L252.3 1085.0 L252.6 1083.1 L253.0 1081.3 L253.3 1079.6 L253.6 1077.8 L254.0 1075.8 L254.4 1073.9 L254.8 1071.9 L255.2 1070.0 L255.6 1068.2 L256.0 1066.3 L256.4 1064.5 L256.8 1062.7 L257.2 1060.8 L257.6 1059.0 L258.0 1057.2 L258.4 1055.4 L258.8 1053.6 L259.1 1051.8 L259.5 1050.0 L259.8 1048.1 L260.2 1046.3 L260.5 1044.5 L260.8 1042.7 L261.1 1041.0 L261.4 1039.2 L261.7 1037.4 L262.0 1035.6 L262.3 1033.8 L262.5 1032.0 L262.8 1030.1 L263.2 1028.2 L263.5 1026.3 L263.8 1024.3 L264.1 1022.6 L264.4 1020.8 L264.7 1019.0 L265.0 1017.2 L265.4 1015.4 L265.7 1013.5 L266.0 1011.6 L266.4 1009.7 L266.7 1007.8 L267.0 1005.9 L267.4 1003.9 L267.7 1002.0 L268.1 1000.0 L268.4 998.1 L268.7 996.1 L269.1 994.2 L269.4 992.2 L269.8 990.3 L270.1 988.4 L270.4 986.5 L270.8 984.6 L271.1 982.7 L271.4 980.8 L271.7 979.0 L272.1 977.1 L272.4 975.2 L272.7 973.3 L273.0 971.4 L273.3 969.5 L273.7 967.6 L274.0 965.8 L274.3 963.9 L274.6 962.0 L275.0 960.1 L275.3 958.2 L275.6 956.3 L276.0 954.5 L276.3 952.6 L276.6 950.7 L277.0 948.8 L277.3 946.9 L277.7 945.0 L278.0 943.1 L278.4 941.2 L278.8 939.3 L279.1 937.5 L279.5 935.6 L279.8 933.7 L280.2 931.8 L280.6 929.9 L280.9 928.0 L281.3 926.1 L281.7 924.2 L282.1 922.3 L282.4 920.4 L282.8 918.6 L283.2 916.7 L283.5 914.8 L283.9 912.9 L284.3 911.0 L284.6 909.1 L285.0 907.2 L285.4 905.4 L285.7 903.5 L286.1 901.6 L286.4 899.8 L286.8 897.9 L287.2 896.0 L287.5 894.1 L287.9 892.3 L288.3 890.4 L288.6 888.5 L289.0 886.6 L289.4 884.8 L289.7 882.9 L290.1 881.0 L290.5 879.1 L290.8 877.2 L291.2 875.2 L291.6 873.3 L292.0 871.4 L292.3 869.5 L292.7 867.5 L293.1 865.5 L293.5 863.5 L293.9 861.5 L294.3 859.4 L294.7 857.3 L295.1 855.3 L295.5 853.2 L295.9 851.2 L296.3 849.2 L296.7 847.2 L297.1 845.2 L297.5 843.3 L297.9 841.4 L298.3 839.5 L298.6 837.7 L299.0 836.0 L299.3 834.3 L299.7 832.8 L300.0 831.2 L300.5 829.1 L300.9 827.1 L301.3 825.2 L301.7 823.5 L302.1 821.8 L302.5 820.1 L302.9 818.4 L303.3 816.7 L303.8 815.0 L304.2 813.1 L304.7 811.2 L305.1 809.4 L305.6 807.5 L306.1 805.7 L306.5 803.8 L307.0 801.9 L307.5 800.0 L307.9 798.3 L308.4 796.6 L308.8 794.8 L309.2 793.1 L309.7 791.3 L310.1 789.6 L310.6 787.8 L311.0 786.0 L311.5 784.3 L311.9 782.5 L312.3 780.7 L312.8 779.0 L313.2 777.2 L313.7 775.5 L314.1 773.7 L314.5 772.0 L315.0 770.2 L315.4 768.5 L315.8 766.7 L316.2 765.0 L316.7 763.2 L317.1 761.3 L317.5 759.5 L317.9 757.7 L318.3 755.9 L318.8 754.1 L319.2 752.3 L319.6 750.5 L320.0 748.8 L320.5 746.8 L320.9 745.0 L321.4 743.1 L321.8 741.2 L322.3 739.4 L322.8 737.5 L323.3 735.6 L323.8 733.8 L324.2 732.0 L324.7 730.2 L325.2 728.3 L325.6 726.5 L326.1 724.7 L326.6 722.8 L327.1 721.0 L327.6 719.2 L328.1 717.5 L328.6 715.7 L329.2 714.0 L329.7 712.2 L330.2 710.5 L330.8 708.8 L331.4 707.2 L331.9 705.5 L332.5 703.8 L333.1 702.1 L333.7 700.4 L334.3 698.7 L334.9 697.1 L335.5 695.4 L336.2 693.7 L336.8 691.9 L337.5 690.0 L338.1 688.3 L338.7 686.5 L339.3 684.7 L339.9 682.7 L340.5 680.8 L341.2 678.8 L341.8 676.8 L342.4 674.9 L343.1 672.9 L343.7 671.0 L344.4 669.2 L345.0 667.5 L345.7 665.7 L346.4 663.9 L347.1 662.2 L347.7 660.5 L348.4 658.9 L349.1 657.3 L349.8 655.7 L350.5 654.1 L351.2 652.5 L352.1 650.6 L353.0 648.8 L353.9 647.0 L354.8 645.2 L355.7 643.5 L356.6 641.7 L357.5 640.0 L358.4 638.3 L359.3 636.7 L360.1 635.1 L361.0 633.4 L361.9 631.8 L362.8 630.3 L363.8 628.8 L364.8 627.1 L365.8 625.5 L366.8 623.9 L367.9 622.4 L368.9 620.9 L370.0 619.4 L371.2 617.8 L372.5 616.2 L373.8 614.6 L375.0 613.2 L376.2 611.9 L377.7 610.5 L379.1 609.4 L380.6 608.1 L381.8 607.1 L383.1 606.0 L384.5 604.8 L385.9 603.6 L387.3 602.4 L388.8 601.2 L390.2 600.1 L391.6 598.9 L393.0 597.8 L394.5 596.7 L396.0 595.5 L397.5 594.4 L398.9 593.4 L400.3 592.4 L401.7 591.4 L403.1 590.4 L404.6 589.4 L406.0 588.4 L407.5 587.5 L409.2 586.5 L410.8 585.5 L412.5 584.6 L414.2 583.7 L415.9 582.8 L417.5 581.9 L419.0 581.1 L420.5 580.2 L422.0 579.4 L423.5 578.6 L425.0 577.8 L426.6 576.9 L428.2 576.0 L429.9 575.1 L431.7 574.2 L433.4 573.3 L435.2 572.4 L437.0 571.5 L438.8 570.6 L440.5 569.8 L442.3 569.0 L444.0 568.2 L445.8 567.4 L447.6 566.6 L449.4 565.8 L451.2 565.0 L453.0 564.2 L454.7 563.4 L456.5 562.6 L458.3 561.8 L460.1 561.0 L461.9 560.3 L463.7 559.5 L465.6 558.8 L467.4 558.1 L469.2 557.4 L471.1 556.8 L473.0 556.2 L474.9 555.5 L476.8 554.9 L478.7 554.3 L480.6 553.7 L482.5 553.1 L484.4 552.5 L486.3 551.9 L488.2 551.2 L490.1 550.6 L492.1 550.0 L494.0 549.4 L495.9 548.8 L497.7 548.1 L499.6 547.5 L501.4 546.9 L503.1 546.2 L504.8 545.6 L506.5 545.0 L508.2 544.3 L509.9 543.7 L511.6 543.1 L513.3 542.5 L515.0 541.9 L516.9 541.3 L518.8 540.7 L520.7 540.1 L522.6 539.5 L524.5 539.0 L526.3 538.5 L528.2 538.1 L530.0 537.7 L531.8 537.4 L533.6 537.1 L535.4 536.9 L537.2 536.7 L538.9 536.5 L540.7 536.4 L542.5 536.3 L544.4 536.2 L546.2 536.2 L548.1 536.2 L550.0 536.2 L551.9 536.2 L553.8 536.3 L555.6 536.5 L557.3 536.7 L559.0 536.9 L560.7 537.2 L562.4 537.5 L564.1 537.9 L565.8 538.3 L567.5 538.8 L569.3 539.3 L571.2 539.8 L573.0 540.5 L574.8 541.1 L576.7 541.8 L578.5 542.6 L580.4 543.4 L582.1 544.1 L583.7 544.9 L585.4 545.8 L587.2 546.6 L588.9 547.5 L590.6 548.5 L592.2 549.4 L593.9 550.4 L595.5 551.4 L597.0 552.4 L598.6 553.4 L600.1 554.4 L601.6 555.5 L603.0 556.6 L604.5 557.7 L605.9 558.8 L607.3 560.0 L608.7 561.2 L610.1 562.4 L611.4 563.7 L612.7 565.1 L614.0 566.4 L615.3 567.8 L616.5 569.2 L617.7 570.6 L618.9 572.0 L620.1 573.4 L621.3 574.9 L622.5 576.5 L623.7 578.0 L624.9 579.6 L626.0 581.2 L627.2 582.7 L628.3 584.2 L629.5 585.7 L630.6 587.1 L631.8 588.4 L633.0 589.8 L634.1 591.1 L635.3 592.4 L636.5 593.6 L637.7 594.9 L638.9 596.1 L640.2 597.4 L641.6 598.7 L642.9 600.0 L644.3 601.2 L645.6 602.4 L647.0 603.5 L648.4 604.6 L649.9 605.7 L651.5 606.8 L653.1 607.8 L654.6 608.8 L656.2 609.6 L657.8 610.3 L659.5 610.9 L661.2 611.4 L662.9 611.8 L664.6 612.1 L666.3 612.2 L668.0 612.1 L669.7 611.9 L671.3 611.6 L673.0 611.1 L674.8 610.6 L676.3 610.1 L677.9 609.4 L679.5 608.7 L681.1 607.9 L682.8 607.1 L684.4 606.3 L686.1 605.5 L687.7 604.7 L689.3 603.9 L690.9 603.1 L692.6 602.3 L694.2 601.4 L695.9 600.6 L697.6 599.7 L699.3 598.9 L700.9 598.1 L702.6 597.3 L704.2 596.5 L705.9 595.7 L707.6 594.9 L709.3 594.2 L711.0 593.4 L712.7 592.6 L714.4 591.8 L716.1 591.0 L717.7 590.3 L719.4 589.5 L721.2 588.7 L722.9 588.0 L724.6 587.2 L726.3 586.5 L728.0 585.8 L729.7 585.1 L731.4 584.4 L733.3 583.7 L735.2 583.0 L737.1 582.3 L739.0 581.7 L740.9 581.0 L742.7 580.4 L744.6 579.8 L746.5 579.2 L748.4 578.6 L750.4 578.0 L752.4 577.4 L754.4 576.8 L756.3 576.2 L758.2 575.7 L760.0 575.2 L761.6 574.7 L763.5 574.3 L765.2 573.9 L766.9 573.6 L768.9 573.2 L770.4 572.9 L772.1 572.5 L773.9 572.2 L775.8 571.8 L777.8 571.4 L779.8 571.0 L781.9 570.5 L783.9 570.1 L785.9 569.7 L787.8 569.3 L789.7 568.9 L791.6 568.5 L793.4 568.1 L795.3 567.7 L797.2 567.3 L799.1 566.9 L801.0 566.5 L802.8 566.1 L804.7 565.7 L806.6 565.3 L808.5 564.9 L810.5 564.4 L812.5 564.0 L814.5 563.5 L816.5 563.1 L818.4 562.6 L820.3 562.2 L822.1 561.8 L823.9 561.4 L825.5 561.0 L827.6 560.5 L829.5 560.1 L831.2 559.7 L833.1 559.3 L835.0 558.9 L836.8 558.5 L838.6 558.1 L840.5 557.6 L842.4 557.2 L844.3 556.7 L846.2 556.3 L848.2 555.8 L850.1 555.4 L852.0 554.9 L853.9 554.5 L855.8 554.0 L857.7 553.6 L859.6 553.1 L861.5 552.8 L863.3 552.4 L865.3 552.1 L867.2 551.8 L869.0 551.5 L870.9 551.2 L872.7 551.0 L874.6 550.9 L876.5 550.8 L878.4 550.7 L880.3 550.7 L882.2 550.7 L884.1 550.7 L885.9 550.8 L887.9 551.0 L889.8 551.2 L891.7 551.5 L893.6 551.8 L895.4 552.2 L897.4 552.7 L899.2 553.3 L901.1 553.9 L902.9 554.7 L904.4 555.4 L906.0 556.2 L907.5 557.1 L909.0 558.0 L910.5 559.0 L911.8 560.0 L913.1 561.1 L914.3 562.3 L915.6 563.5 L916.8 564.7 L918.0 566.0 L919.3 567.4 L920.6 568.9 L921.9 570.4 L923.1 572.0 L924.4 573.6 L925.6 575.2 L926.7 576.6 L927.8 578.1 L928.8 579.6 L929.9 581.1 L931.0 582.6 L932.0 584.2 L933.1 585.7 L934.2 587.2 L935.3 588.8 L936.3 590.3 L937.4 591.9 L938.5 593.4 L939.6 594.9 L940.7 596.4 L941.9 597.9 L943.1 599.5 L944.4 601.1 L945.6 602.6 L946.9 604.1 L948.2 605.4 L949.7 606.8 L951.2 608.1 L952.7 609.3 L954.2 610.4 L955.8 611.2 L957.4 611.8 L959.1 612.2 L960.7 612.4 L962.4 612.4 L964.1 612.3 L965.7 611.9 L967.4 611.4 L969.0 610.7 L970.5 609.8 L972.1 608.6 L973.6 607.3 L975.1 605.8 L976.5 604.3 L977.7 602.9 L978.8 601.4 L979.9 599.9 L980.9 598.3 L982.0 596.6 L983.0 595.0 L984.1 593.3 L985.2 591.7 L986.3 590.0 L987.3 588.3 L988.4 586.6 L989.5 585.0 L990.5 583.4 L991.6 582.0 L992.8 580.6 L993.9 579.3 L995.1 578.0 L996.3 576.9 L997.6 575.9 L999.0 574.9 L1000.5 574.0 L1002.0 573.2 L1003.6 572.6 L1005.1 572.1 L1006.8 571.8 L1008.4 571.6 L1010.1 571.6 L1011.7 571.8 L1013.4 572.1 L1015.0 572.5 L1016.7 573.2 L1018.3 574.0 L1019.9 574.9 L1021.4 576.0 L1022.9 577.2 L1024.4 578.6 L1025.9 580.1 L1027.0 581.3 L1028.2 582.7 L1029.2 584.1 L1030.3 585.6 L1031.3 587.2 L1032.4 588.7 L1033.4 590.4 L1034.4 592.0 L1035.4 593.7 L1036.3 595.5 L1037.2 597.3 L1038.2 599.1 L1039.1 600.9 L1040.0 602.7 L1041.0 604.4 L1041.9 606.0 L1042.8 607.6 L1043.7 609.2 L1044.7 610.8 L1045.6 612.4 L1046.5 613.9 L1047.5 615.3 L1048.5 616.7 L1049.7 618.3 L1050.9 619.8 L1052.1 621.3 L1053.4 622.7 L1054.7 624.0 L1056.1 625.1 L1057.5 626.0 L1059.1 626.8 L1060.7 627.5 L1062.3 628.0 L1063.9 628.4 L1065.5 628.6 L1067.4 628.4 L1069.3 628.0 L1071.2 627.4 L1073.1 626.6 L1075.0 625.7 L1076.6 624.9 L1078.2 624.0 L1079.7 623.0 L1081.3 622.0 L1082.8 620.9 L1084.4 620.0 L1085.9 619.1 L1087.5 618.1 L1089.0 617.2 L1090.6 616.3 L1092.1 615.5 L1093.8 614.9 L1095.6 614.2 L1097.5 613.7 L1099.5 613.2 L1101.4 612.9 L1103.3 612.6 L1105.2 612.5 L1107.1 612.5 L1109.0 612.7 L1110.8 613.0 L1112.7 613.5 L1114.6 613.9 L1116.4 614.4 L1118.3 615.1 L1120.2 615.8 L1122.1 616.5 L1124.0 617.1 L1125.9 617.6 L1127.8 618.0 L1129.7 618.3 L1131.6 618.5 L1133.5 618.7 L1135.4 618.7 L1137.3 618.6 L1139.2 618.3 L1141.1 617.8 L1143.0 617.2 L1144.8 616.6 L1146.7 616.0 L1148.6 615.6 L1150.5 615.4 L1152.4 615.3 L1154.3 615.2 L1156.2 615.2 L1158.1 615.2 L1159.9 615.1 L1161.7 615.1 L1163.4 615.1 L1165.1 615.1 L1166.8 614.9 L1168.4 614.4 L1169.9 613.6 L1171.3 612.5 L1172.7 611.1 L1174.1 609.7 L1175.5 608.2 L1176.9 606.8 L1178.2 605.5 L1179.5 604.1 L1180.9 602.6 L1182.2 601.2 L1183.5 599.8 L1184.9 598.4 L1186.3 597.2 L1187.8 596.0 L1189.4 594.9 L1190.9 593.8 L1192.5 592.8 L1194.2 592.0 L1195.8 591.3 L1197.6 590.9 L1199.5 590.8 L1201.4 590.9 L1203.3 590.9 L1205.2 590.7 L1206.8 590.3 L1208.4 589.8 L1210.0 589.2 L1211.5 588.6 L1213.1 588.0 L1214.7 587.5 L1216.6 586.8 L1218.5 586.1 L1220.4 585.5 L1222.3 585.0 L1224.1 584.9 L1226.1 585.1 L1228.0 585.6 L1229.9 586.3 L1231.6 587.2 L1232.9 588.1 L1234.1 589.1 L1235.3 590.3 L1236.4 591.6 L1237.6 593.0 L1238.7 594.4 L1239.8 595.9 L1240.8 597.5 L1241.9 599.3 L1243.0 601.0 L1244.0 602.7 L1245.1 604.4 L1246.0 605.9 L1247.0 607.4 L1247.9 609.0 L1248.8 610.5 L1249.8 612.0 L1250.7 613.5 L1251.7 614.9 L1252.7 616.2 L1253.9 617.6 L1255.1 619.0 L1256.4 620.3 L1257.7 621.5 L1258.9 622.8 L1260.2 624.1 L1261.5 625.3 L1262.8 626.6 L1264.0 627.8 L1265.3 629.1 L1266.6 630.4 L1267.8 631.8 L1268.9 633.2 L1270.0 634.7 L1271.0 636.3 L1272.1 637.9 L1273.1 639.5 L1274.2 641.0 L1275.3 642.5 L1276.5 644.0 L1277.7 645.5 L1278.9 646.9 L1280.2 648.3 L1281.5 649.5 L1282.9 650.5 L1284.6 651.4 L1286.5 652.2 L1288.4 652.7 L1290.4 653.1 L1292.3 653.3 L1294.2 653.3 L1296.1 653.0 L1298.0 652.6 L1299.9 652.1 L1301.7 651.4 L1303.3 650.7 L1305.0 649.9 L1306.6 648.9 L1308.2 647.9 L1309.7 646.8 L1311.2 645.7 L1312.7 644.5 L1314.2 643.2 L1315.7 641.9 L1317.1 640.5 L1318.4 639.0 L1319.7 637.5 L1320.8 636.1 L1321.8 634.7 L1322.7 633.3 L1323.7 631.8 L1324.5 630.3 L1325.4 628.7 L1326.2 627.1 L1326.9 625.5 L1327.6 623.8 L1328.2 622.0 L1328.8 620.2 L1329.4 618.4 L1330.0 616.6 L1330.5 614.7 L1331.1 612.9 L1331.6 611.2 L1332.2 609.4 L1332.7 607.6 L1333.2 605.8 L1333.7 604.0 L1334.2 602.2 L1334.7 600.4 L1335.3 598.6 L1335.8 596.9 L1336.4 595.1 L1337.0 593.3 L1337.5 591.5 L1338.1 589.7 L1338.8 587.9 L1339.4 586.2 L1340.1 584.4 L1340.8 582.7 L1341.6 580.9 L1342.4 579.1 L1343.3 577.2 L1344.2 575.4 L1345.1 573.6 L1346.1 571.9 L1347.0 570.2 L1348.0 568.6 L1349.1 566.8 L1350.2 565.2 L1351.3 563.6 L1352.4 562.0 L1353.6 560.5 L1354.9 559.1 L1356.2 557.8 L1357.5 556.5 L1358.9 555.3 L1360.3 554.2 L1361.8 553.1 L1363.2 552.1 L1364.8 551.1 L1366.5 550.1 L1368.1 549.2 L1369.8 548.4 L1371.6 547.8 L1373.4 547.3 L1375.3 546.8 L1377.3 546.5 L1379.2 546.3 L1381.0 546.3 L1383.0 546.5 L1384.9 546.9 L1386.8 547.6 L1388.6 548.4 L1390.2 549.4 L1391.7 550.7 L1393.1 552.0 L1394.6 553.4 L1396.1 554.7 L1397.6 555.9 L1399.1 557.1 L1400.6 558.3 L1402.1 559.3 L1403.7 560.2 L1405.5 560.9 L1407.4 561.5 L1409.2 561.9 L1411.2 562.1 L1413.0 562.1 L1414.9 561.9 L1416.9 561.6 L1418.8 561.3 L1420.7 560.9 L1422.6 560.6 L1424.5 560.2 L1426.4 559.8 L1428.2 559.3 L1430.1 558.7 L1431.7 558.1 L1433.3 557.4 L1434.9 556.6 L1436.4 555.8 L1438.0 555.0 L1439.6 554.3 L1441.2 553.6 L1442.7 552.8 L1444.3 552.1 L1445.8 551.4 L1447.4 550.8 L1449.0 550.3 L1450.9 549.9 L1452.7 549.6 L1454.6 549.4 L1456.5 549.3 L1458.4 549.1 L1460.3 549.0 L1462.2 549.0 L1464.1 548.9 L1466.0 548.9 L1467.9 548.7 L1469.9 548.4 L1471.9 548.1 L1473.8 547.7 L1475.7 547.2 L1477.3 546.8 L1478.7 546.3 L1479.9 545.7 L1481.3 545.1 L1482.6 544.5 L1484.1 543.9 L1485.7 543.3 L1487.4 542.6 L1489.2 542.1 L1491.0 541.6 L1492.7 541.3 L1494.5 541.2 L1496.4 541.3 L1498.3 541.6 L1500.2 541.9 L1502.1 542.2 L1504.0 542.4 L1505.9 542.4 L1507.8 542.3 L1509.8 542.1 L1511.7 541.8 L1513.7 541.4 L1515.6 541.0 L1517.4 540.4 L1519.1 539.8 L1520.8 538.9 L1522.4 537.8 L1523.9 536.6 L1525.4 535.4 L1526.9 534.3 L1528.5 533.4 L1530.2 532.7 L1531.9 532.0 L1533.6 531.5 L1535.3 531.1 L1537.0 531.0 L1538.9 531.2 L1540.9 531.8 L1542.7 532.4 L1544.6 533.0 L1546.3 533.5 L1547.9 534.0 L1549.6 534.4 L1551.2 534.4 L1552.7 534.0 L1554.2 533.4 L1555.7 532.6 L1557.2 531.6 L1558.7 530.6 L1560.0 529.6 L1561.4 528.5 L1562.7 527.2 L1564.1 525.9 L1565.5 524.6 L1566.8 523.3 L1568.2 522.1 L1569.5 521.0 L1570.9 519.8 L1572.2 518.7 L1573.5 517.5 L1574.9 516.5 L1576.2 515.4 L1577.6 514.5 L1579.2 513.6 L1580.8 512.9 L1582.4 512.2 L1584.0 511.5 L1585.5 510.7 L1587.0 509.8 L1588.4 508.8 L1589.8 507.7 L1591.1 506.5 L1592.3 505.2 L1593.5 503.9 L1594.6 502.5 L1595.5 501.1 L1596.4 499.6 L1597.2 498.0 L1598.0 496.4 L1598.7 494.7 L1599.5 493.1 L1600.3 491.6 L1601.2 489.9 L1602.1 488.1 L1602.9 486.3 L1603.8 484.6 L1604.8 483.1 L1605.9 481.8 L1607.4 480.5 L1609.1 479.5 L1610.8 478.7 L1612.5 478.3 L1614.1 478.4 L1615.8 478.9 L1617.4 479.6 L1619.1 480.2 L1620.7 480.8 L1622.4 481.5 L1624.0 482.0 L1625.7 482.3 L1627.4 482.2 L1629.1 481.8 L1630.7 481.2 L1632.4 480.6 L1634.1 480.0 L1635.7 479.4 L1637.4 478.6 L1639.0 477.7 L1640.3 476.7 L1641.6 475.6 L1642.9 474.4 L1644.2 473.3 L1645.6 472.3 L1647.0 471.4 L1648.5 470.6 L1650.0 469.8 L1651.6 469.2 L1653.1 468.6 L1655.0 468.2 L1656.9 468.0 L1658.8 467.8 L1660.7 467.4 L1662.2 466.9 L1663.7 466.3 L1665.2 465.6 L1666.7 465.0 L1668.2 464.5 L1670.1 463.9 L1672.0 463.3 L1673.9 462.9 L1675.8 462.7 L1677.7 462.7 L1679.6 462.9 L1681.5 463.3 L1683.3 463.9 L1684.9 464.6 L1686.4 465.6 L1688.0 466.7 L1689.5 467.8 L1690.9 469.0 L1692.3 470.3 L1693.7 471.7 L1695.0 473.1 L1696.3 474.6 L1697.6 476.0 L1705.1 485.0 L1712.7 491.7 L1720.2 498.2 L1728.7 506.2 L1735.3 497.6 L1741.9 492.2 L1751.4 491.1 L1759.9 484.4 L1771.2 479.1 L1782.5 477.0 L1791.0 470.4 L1801.4 456.3 L1810.8 435.5 L1819.3 423.2 L1825.0 407.2 L1830.6 394.9 L1837.3 393.4 L1846.7 392.5 L1856.1 393.0 L1864.6 394.9 L1871.2 401.5 L1878.8 412.9 L1883.5 429.9 L1887.3 450.6 L1892.9 465.7 L1898.2 480.8 L1901.0 489.0"/>
</g>
<path fill="#000" fill-rule="evenodd" d="M146 105H1903L1905 107V1322L1903 1324H146L144 1322V107ZM151 112V1317H1898V112Z"/>
<g>
<text x="147.8" y="65.0" letter-spacing="0.07">Hi-Fi.ru</text>
<text x="796.8" y="65.0" letter-spacing="-0.46">LogChirp</text>
<text x="933.0" y="65.0">-</text>
<text x="953.6" y="65.0" letter-spacing="-0.34">Frequency</text>
<text x="1111.8" y="65.0" letter-spacing="-0.59">Response</text>
<text x="1605.2" y="65.0">14.05.2012</text>
<text x="1776.3" y="65.0" letter-spacing="0.13">19.02.46</text>
<text x="56.8" y="118.5" letter-spacing="0.12">100.0</text>
<text x="73.8" y="360.2" letter-spacing="0.30">90.0</text>
<text x="73.8" y="602.2" letter-spacing="0.30">80.0</text>
<text x="73.8" y="845.2" letter-spacing="0.30">70.0</text>
<text x="73.8" y="1087.2" letter-spacing="0.30">60.0</text>
<text x="73.8" y="1330.2" letter-spacing="0.30">50.0</text>
<text x="39.0" y="240.0" letter-spacing="-0.50">dBSPL</text>
<text x="1912.2" y="118.5" letter-spacing="-0.20">100.0</text>
<text x="1911.3" y="360.2" letter-spacing="0.30">80.0</text>
<text x="1911.3" y="602.2" letter-spacing="0.30">60.0</text>
<text x="1912.3" y="845.2">40.0</text>
<text x="1911.3" y="1087.2" letter-spacing="0.30">20.0</text>
<text x="1911.8" y="1329.5" letter-spacing="-0.50">0.0</text>
<text x="1912.5" y="240.0" letter-spacing="-1.60">Deg</text>
<text x="129.0" y="1367.0" letter-spacing="-0.70">20</text>
<text x="361.6" y="1367.0" letter-spacing="0.50">50</text>
<text x="527.9" y="1367.0" letter-spacing="0.40">100</text>
<text x="703.5" y="1367.0" letter-spacing="0.60">200</text>
<text x="936.6" y="1367.0" letter-spacing="0.55">500</text>
<text x="1123.4" y="1367.0" letter-spacing="-1.20">1k</text>
<text x="1298.8" y="1367.0" letter-spacing="0.20">2k</text>
<text x="1397.4" y="1367.0" letter-spacing="0.90">Hz</text>
<text x="1529.7" y="1367.0" letter-spacing="1.00">5k</text>
<text x="1698.9" y="1367.0" letter-spacing="-0.80">10k</text>
<text x="1873.4" y="1367.0" letter-spacing="-0.05">20k</text>
<text x="117.8" y="1421.0" letter-spacing="0.12">CH A</text>
<text x="220.9" y="1421.0" letter-spacing="-0.68">dBSPL</text>
<text x="346.4" y="1421.0" letter-spacing="-0.22">1/3 Octave</text>
<text x="526.6" y="1421.0" letter-spacing="-0.40">48kHz</text>
<text x="642.8" y="1421.0" letter-spacing="0.62">32K</text>
<text x="727.7" y="1421.0" letter-spacing="-0.44">Rectangular</text>
<text x="924.0" y="1421.0" letter-spacing="0.04">Start 23.58ms</text>
<text x="1160.0" y="1421.0" letter-spacing="-0.13">Stop 30.06ms</text>
<text x="1393.3" y="1421.0">FreqLO 154.34Hz</text>
<text x="1683.0" y="1421.0" letter-spacing="-0.08">Length 6.48ms</text>
<text x="147.4" y="1475.0" letter-spacing="-0.14">File: ачх 0 бас готово.mls</text>
<text x="1779.2" y="145.6" class="clio" letter-spacing="0.70">CLIO</text>
</g>
</svg></body></html>
